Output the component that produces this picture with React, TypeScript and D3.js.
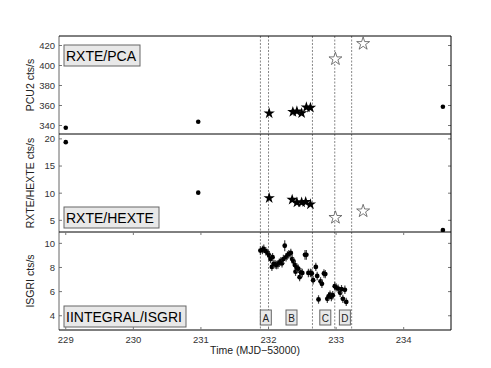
import React from "react";
import * as d3 from "d3";

// ---- data ----
const pcaDotsT = [229.0, 230.96, 234.58];
const pcaDotsV = [337.8, 343.8, 358.8];
const pcaStarT = [232.01, 232.36, 232.42, 232.49, 232.56, 232.62];
const pcaStarV = [352.2, 353.6, 354.2, 352.4, 358.2, 357.8];
const pcaOpenT = [232.99, 233.4];
const pcaOpenV = [406.5, 421.8];

const hexDotsT = [229.0, 230.96, 234.58];
const hexDotsV = [19.4, 10.1, 3.2];
const hexStarT = [232.01, 232.35, 232.42, 232.49, 232.55, 232.62];
const hexStarV = [9.1, 8.8, 8.3, 8.3, 8.4, 7.95];
const hexOpenT = [232.99, 233.4];
const hexOpenV = [5.5, 6.7];

const isgriT = [231.88, 231.91, 231.93, 231.96, 231.99, 232.01, 232.03, 232.05, 232.06, 232.08,
  232.10, 232.12, 232.14, 232.16, 232.18, 232.20, 232.22, 232.24, 232.26, 232.28,
  232.30, 232.33, 232.35, 232.37, 232.39, 232.40, 232.42, 232.44, 232.46, 232.48,
  232.50, 232.54, 232.56, 232.59, 232.62, 232.64, 232.66, 232.70, 232.72, 232.74,
  232.77, 232.79, 232.82, 232.84, 232.87, 232.89, 232.91, 232.93, 232.95, 232.98,
  233.00, 233.03, 233.06, 233.08, 233.10, 233.13, 233.15];
const isgriV = [9.4, 9.45, 9.55, 9.35, 9.2, 9.0, 8.7, 8.05, 8.85, 8.3,
  8.25, 8.2, 8.25, 8.4, 8.5, 8.35, 8.7, 9.8, 8.85, 9.0,
  9.1, 9.2, 8.7, 8.5, 8.2, 7.65, 8.0, 7.9, 7.2, 7.6,
  7.55, 9.05, 9.05, 7.55, 7.55, 7.5, 6.95, 8.05, 7.3, 5.35,
  6.85, 6.65, 7.5, 7.45, 5.4, 5.6, 5.75, 5.55, 5.7, 6.45,
  6.35, 6.25, 5.9, 6.2, 5.4, 6.15, 5.15];
const isgriE = [0.35, 0.35, 0.35, 0.35, 0.35, 0.35, 0.35, 0.35, 0.35, 0.35,
  0.35, 0.35, 0.35, 0.35, 0.35, 0.35, 0.35, 0.45, 0.35, 0.35,
  0.35, 0.35, 0.35, 0.35, 0.35, 0.35, 0.35, 0.35, 0.35, 0.35,
  0.35, 0.4, 0.4, 0.35, 0.35, 0.35, 0.35, 0.35, 0.35, 0.35,
  0.35, 0.35, 0.35, 0.35, 0.35, 0.35, 0.35, 0.35, 0.35, 0.35,
  0.35, 0.35, 0.35, 0.35, 0.35, 0.35, 0.35];

const vLines = [231.88, 232.0, 232.65, 232.98, 233.23];
const phaseLabels = ["A", "B", "C", "D"];
const phaseT = [231.96, 232.34, 232.84, 233.13];

const xTicks = [229, 230, 231, 232, 233, 234];
const pcaTicks = [340, 360, 380, 400, 420];
const hexTicks = [5, 10, 15, 20];
const isgriTicks = [4, 6, 8, 10];

// ---- layout ----
const W = 491, H = 368;
const L = 59, R = 451;
const P1 = [36, 134], P2 = [134, 232], P3 = [232, 330];
const FONT = "'Liberation Sans', Arial, Helvetica, sans-serif";

const x = d3.scaleLinear().domain([228.9, 234.7]).range([L, R]);
const y1 = d3.scaleLinear().domain([331.5, 429.5]).range([P1[1], P1[0]]);
const y2 = d3.scaleLinear().domain([2.85, 20.9]).range([P2[1], P2[0]]);
const y3 = d3.scaleLinear().domain([2.82, 10.94]).range([P3[1], P3[0]]);

const starFilled = d3.symbol().type(d3.symbolStar).size(40)();
const starOpen = d3.symbol().type(d3.symbolStar).size(52)();

function Panel({ y, ticks, range, title, box, boxW, boxY, clipId, children }: any) {
  return (
    <g>
      <defs>
        <clipPath id={clipId}>
          <rect x={L} y={range[0]} width={R - L} height={range[1] - range[0]} />
        </clipPath>
      </defs>
      <g clipPath={`url(#${clipId})`}>{children}</g>
      {ticks.map((t: number) => (
        <g key={t}>
          <line x1={L} x2={L + 3} y1={y(t)} y2={y(t)} stroke="#777" />
          <line x1={R - 3} x2={R} y1={y(t)} y2={y(t)} stroke="#777" />
          <text x={L - 4} y={y(t)} dy="0.35em" textAnchor="end" fontSize={9.5} fill="#333" fontFamily={FONT}>{t}</text>
        </g>
      ))}
      <line x1={L} x2={L} y1={range[0]} y2={range[1]} stroke="#666" />
      <line x1={R} x2={R} y1={range[0]} y2={range[1]} stroke="#000" />
      <line x1={L} x2={R} y1={range[0]} y2={range[0]} stroke="#000" />
      <text transform={`translate(${L - 25},${(range[0] + range[1]) / 2}) rotate(-90)`} textAnchor="middle" fontSize={10.5} fill="#222" fontFamily={FONT}>{title}</text>
      <rect x={64} y={boxY} width={boxW} height={21} fill="#e8e8e8" stroke="#666" />
      <text x={66} y={boxY + 16} fontSize={14} fill="#000" fontFamily={FONT}>{box}</text>
    </g>
  );
}

export default function App() {
  return (
    <svg width={W} height={H} style={{ position: "absolute", left: 0, top: 0, background: "#fff" }}>
      <rect width={W} height={H} fill="#fff" />
      {/* vertical dotted lines */}
      {vLines.map((v, i) => (
        <line key={i} x1={x(v)} x2={x(v)} y1={P1[0]} y2={P3[1]} stroke="#888" strokeWidth={1} strokeDasharray="2,1.5" />
      ))}
      <Panel y={y1} ticks={pcaTicks} range={P1} title="PCU2 cts/s" box="RXTE/PCA" boxW={76} boxY={45} clipId="c1">
        {pcaDotsT.map((t, i) => <circle key={i} cx={x(t)} cy={y1(pcaDotsV[i])} r={2.3} fill="#000" />)}
        {pcaStarT.map((t, i) => <path key={i} d={starFilled} transform={`translate(${x(t)},${y1(pcaStarV[i])})`} fill="#000" />)}
        {pcaOpenT.map((t, i) => <path key={i} d={starOpen} transform={`translate(${x(t)},${y1(pcaOpenV[i])})`} fill="#fff" stroke="#555" strokeWidth={0.8} />)}
      </Panel>
      <Panel y={y2} ticks={hexTicks} range={P2} title="RXTE/HEXTE cts/s" box="RXTE/HEXTE" boxW={95} boxY={207} clipId="c2">
        {hexDotsT.map((t, i) => <circle key={i} cx={x(t)} cy={y2(hexDotsV[i])} r={2.3} fill="#000" />)}
        {hexStarT.map((t, i) => <path key={i} d={starFilled} transform={`translate(${x(t)},${y2(hexStarV[i])})`} fill="#000" />)}
        {hexOpenT.map((t, i) => <path key={i} d={starOpen} transform={`translate(${x(t)},${y2(hexOpenV[i])})`} fill="#fff" stroke="#555" strokeWidth={0.8} />)}
      </Panel>
      <Panel y={y3} ticks={isgriTicks} range={P3} title="ISGRI cts/s" box="IINTEGRAL/ISGRI" boxW={122} boxY={306} clipId="c3">
        {isgriT.map((t, i) => (
          <g key={i}>
            <line x1={x(t)} x2={x(t)} y1={y3(isgriV[i] - isgriE[i])} y2={y3(isgriV[i] + isgriE[i])} stroke="#444" strokeWidth={1.2} />
            <circle cx={x(t)} cy={y3(isgriV[i])} r={2.4} fill="#000" />
          </g>
        ))}
      </Panel>
      {/* phase labels */}
      {phaseLabels.map((lab, i) => (
        <g key={lab}>
          <rect x={x(phaseT[i]) - 5.5} y={310} width={11} height={15} fill="#e8e8e8" stroke="#666" />
          <text x={x(phaseT[i])} y={321.5} textAnchor="middle" fontSize={10} fill="#222" fontFamily={FONT}>{lab}</text>
        </g>
      ))}
      {/* bottom x axis */}
      <line x1={L} x2={R} y1={P3[1]} y2={P3[1]} stroke="#000" />
      {xTicks.map((t) => (
        <g key={t}>
          <line x1={x(t)} x2={x(t)} y1={P3[1]} y2={P3[1] - 3} stroke="#777" />
          <line x1={x(t)} x2={x(t)} y1={P3[0]} y2={P3[0] + 3} stroke="#777" />
          <text x={x(t)} y={343} textAnchor="middle" fontSize={9.5} fill="#333" fontFamily={FONT}>{t}</text>
        </g>
      ))}
      <text x={255} y={354} textAnchor="middle" fontSize={10.5} fill="#222" fontFamily={FONT}>Time (MJD−53000)</text>
    </svg>
  );
}
